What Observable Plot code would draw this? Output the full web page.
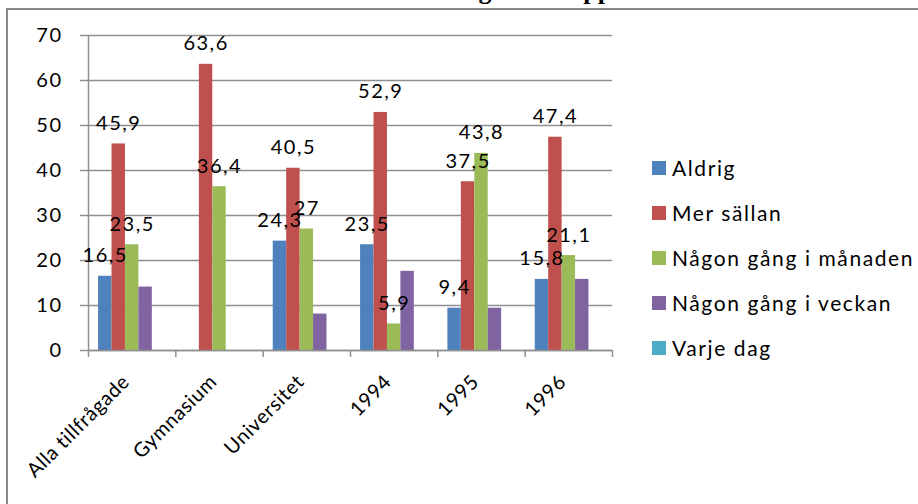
<!DOCTYPE html>
<html>
<head>
<meta charset="utf-8">
<script src="https://cdn.jsdelivr.net/npm/d3@7"></script>
<script src="https://cdn.jsdelivr.net/npm/@observablehq/plot@0.6"></script>
<style>
  body { margin: 0; background: #fff; }
  #wrap { position: relative; width: 918px; height: 504px; overflow: hidden; font-family: Lato, sans-serif; background: #fff; }
  #frame { position: absolute; left: 6px; top: 8px; width: 1000px; height: 1000px; border-left: 2px solid #8a8a8a; border-top: 2px solid #8a8a8a; }
  #titlesvg { position: absolute; left: 0; top: 0; overflow: visible; }
  #chart { position: absolute; left: 0; top: 0; }
  #legend { position: absolute; left: 652px; top: 157px; }
  .item { height: 45px; display: flex; align-items: flex-start; font-size: 21px; letter-spacing: 1.6px; color: #000; }
  .item span.sw { width: 14px; height: 14px; margin-top: 4px; margin-right: 6px; display: inline-block; flex: none; }
  .item span.tx { line-height: 22px; white-space: nowrap; }
  .xlab text { letter-spacing: 0.6px; }
</style>
</head>
<body>
<div id="wrap">
  <div id="frame"></div>
  <svg id="titlesvg" width="918" height="12"><text x="402" y="-1.5" font-family="Liberation Serif, serif" font-weight="bold" font-size="26">Läsning i hela Uppsala</text></svg>
  <div id="chart"></div>
  <div id="legend"></div>
</div>
<script>
// Categories and series
const categories = ["Alla tillfrågade", "Gymnasium", "Universitet", "1994", "1995", "1996"];
const seriesNames = ["Aldrig", "Mer sällan", "Någon gång i månaden", "Någon gång i veckan", "Varje dag"];
const aldrig    = [16.5, 0,    24.3, 23.5, 9.4,  15.8];
const merSallan = [45.9, 63.6, 40.5, 52.9, 37.5, 47.4];
const manaden   = [23.5, 36.4, 27,   5.9,  43.8, 21.1];
const veckan    = [14.1, 0,    8.1,  17.6, 9.4,  15.8];
const varjeDag  = [0,    0,    0,    0,    0,    0];
const seriesValues = [aldrig, merSallan, manaden, veckan, varjeDag];
const seriesLabelled = [true, true, true, false, false];
const colors = ["#4F81BD", "#C0504D", "#9BBB59", "#8064A2", "#4BACC6"];
const yTicks = [0, 10, 20, 30, 40, 50, 60, 70];

const nSeries = seriesNames.length;
const slots = nSeries + 1.5; // gap of 150% bar width
const rows = [];
seriesValues.forEach((vals, j) => {
  vals.forEach((v, i) => {
    rows.push({
      i, j, series: seriesNames[j], value: v,
      x1: i + (0.75 + j) / slots,
      x2: i + (1.75 + j) / slots,
      labelled: seriesLabelled[j]
    });
  });
});
const fmt = v => String(v).replace(".", ",");
const gridColor = "#8f8f8f";

const chart = Plot.plot({
  width: 918,
  height: 504,
  marginLeft: 88,
  marginRight: 306,
  marginTop: 35,
  marginBottom: 154,
  x: { type: "linear", domain: [0, categories.length], axis: null },
  y: { type: "linear", domain: [0, 70], axis: null },
  color: { domain: seriesNames, range: colors },
  style: { fontFamily: "Lato, sans-serif", fontSize: "20px", letterSpacing: "1.5px", background: "transparent", color: "#000" },
  marks: [
    Plot.ruleY(yTicks, { stroke: gridColor, strokeWidth: 1.5 }),
    Plot.rectY(rows.filter(d => d.value > 0), { x1: "x1", x2: "x2", y: "value", fill: "series" }),
    Plot.ruleX([0], { y1: 0, y2: 70, stroke: gridColor, strokeWidth: 1.5 }),
    Plot.ruleY([0], { stroke: gridColor, strokeWidth: 1.5 }),
    Plot.axisY({ ticks: yTicks, tickSize: 8, tickPadding: 18, stroke: gridColor, strokeWidth: 1.5, fill: "#000", fontSize: 20, label: null }),
    Plot.axisX({ ticks: d3.range(categories.length + 1), tickSize: 7, tickFormat: () => "", stroke: gridColor, strokeWidth: 1.5, label: null }),
    Plot.axisX({ ticks: d3.range(categories.length).map(i => i + 0.5), tickSize: 0, tickRotate: -45, tickPadding: 25,
      dx: -6, dy: 3,
      tickFormat: v => categories[Math.floor(v)], fill: "#000", fontSize: 20, label: null, className: "xlab" }),
    Plot.text(rows.filter(d => d.labelled && d.value > 0), {
      x: d => (d.x1 + d.x2) / 2, y: "value", text: d => fmt(d.value),
      lineAnchor: "bottom", dy: -14, fill: "#000", fontSize: 20
    })
  ]
});
document.getElementById("chart").appendChild(chart);

const legend = document.getElementById("legend");
seriesNames.forEach((name, j) => {
  const item = document.createElement("div");
  item.className = "item";
  const sw = document.createElement("span");
  sw.className = "sw";
  sw.style.background = colors[j];
  const tx = document.createElement("span");
  tx.className = "tx";
  tx.textContent = name;
  item.appendChild(sw);
  item.appendChild(tx);
  legend.appendChild(item);
});
</script>
</body>
</html>
